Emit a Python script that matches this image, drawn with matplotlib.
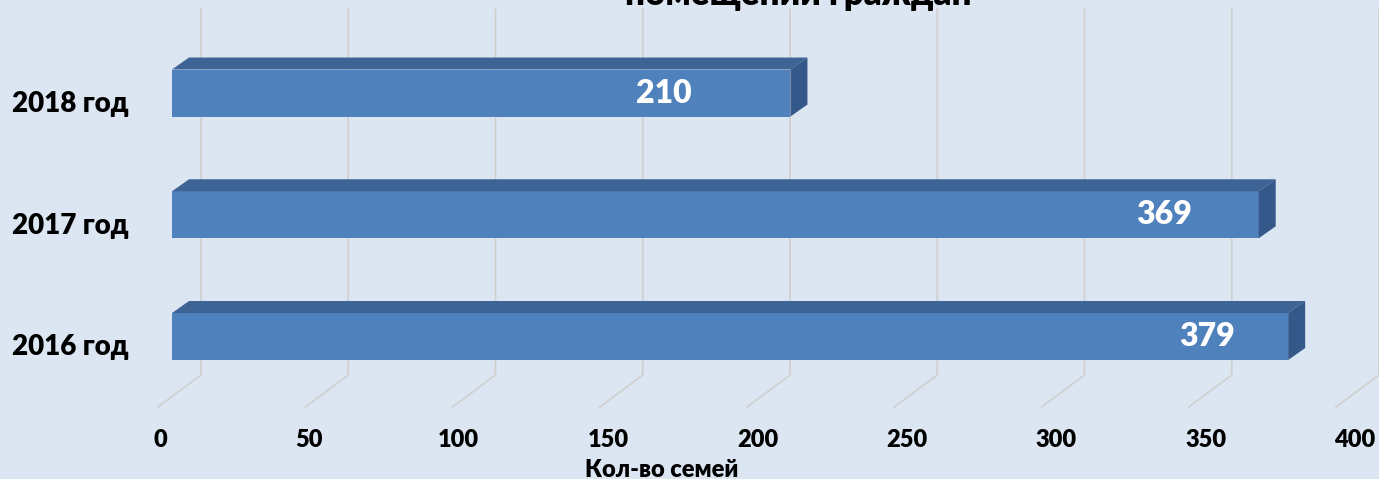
import matplotlib
matplotlib.use("Agg")
import matplotlib.pyplot as plt
from matplotlib.patches import Polygon
from matplotlib.transforms import blended_transform_factory

# ---- data ----
categories = ["2016 год", "2017 год", "2018 год"]
values = [379, 369, 210]
x_ticks = [0, 50, 100, 150, 200, 250, 300, 350, 400]
x_label = "Кол-во семей"
title = "помещений граждан"
label_offsets = [-27.5, -32, -43]   # inside-end label placement (value units)

# ---- style ----
BG = "#dce6f2"
FRONT = "#4f81bd"
TOP = "#3d6494"
SIDE = "#34588a"
GRID = "#cfcfcf"
FONT = "Lato"
WT = "heavy"

W, H = 1379, 479
fig = plt.figure(figsize=(W / 100, H / 100), dpi=100, facecolor=BG)
ax = fig.add_axes([172 / W, 32.9 / H, 1178 / W, (471.2 - 32.9) / H])
ax.set_facecolor(BG)
ax.set_xlim(0, 400)
ax.set_ylim(-0.9, 2.7)
ax.axis("off")

px_x = 400 / 1178.0          # value units per pixel
px_y = 3.6 / (471.2 - 32.9)  # y units per pixel
bar_h = 47 * px_y
dx = 17 * px_x
dy = 12 * px_y
back = 29 * px_x

# back-wall grid + floor lines
y_top = 2.69
y_floor = -0.316
y_front = -0.579
for v in x_ticks:
    ax.plot([v + back, v + back, v - 4.75], [y_top, y_floor, y_front],
            color=GRID, lw=1.2, zorder=0, clip_on=False)

# bars (front face via barh, top/side faces as oblique polygons)
ypos = list(range(len(categories)))
ax.barh(ypos, values, height=bar_h, color=FRONT, zorder=2)
for y, v, off in zip(ypos, values, label_offsets):
    t = y + bar_h / 2
    b = y - bar_h / 2
    ax.add_patch(Polygon([(0, t), (v, t), (v + dx, t + dy), (dx, t + dy)],
                         closed=True, facecolor=TOP, edgecolor="none", zorder=2))
    ax.add_patch(Polygon([(v, b), (v, t), (v + dx, t + dy), (v + dx, b + dy)],
                         closed=True, facecolor=SIDE, edgecolor="none", zorder=2))
    ax.text(v + off, y, str(v), color="white", fontsize=23, fontweight=WT,
            family=FONT, ha="center", va="center", zorder=3)

# category labels
tr = blended_transform_factory(fig.transFigure, ax.transData)
for y, c in zip(ypos, categories):
    ax.text(12 / W, y - 0.09, c, transform=tr, ha="left", va="center",
            fontsize=20, fontweight=WT, family=FONT, color="black")

# x tick labels
for v in x_ticks:
    ax.text(-4.07 + v * 1.0144, -0.85, str(v), ha="center", va="center",
            fontsize=17, fontweight=WT, family=FONT, color="black", clip_on=False)

# axis title
fig.text(662 / W, 1 - 470 / H, x_label, ha="center", va="center",
         fontsize=17, fontweight=WT, family=FONT, color="black")

# chart title (cut off at top, as in the reference)
fig.text(798 / W, 1 - 5 / H, title, ha="center", va="baseline",
         fontsize=25, fontweight=WT, family=FONT, color="black")

fig.savefig("out.png", dpi=100, facecolor=BG)
